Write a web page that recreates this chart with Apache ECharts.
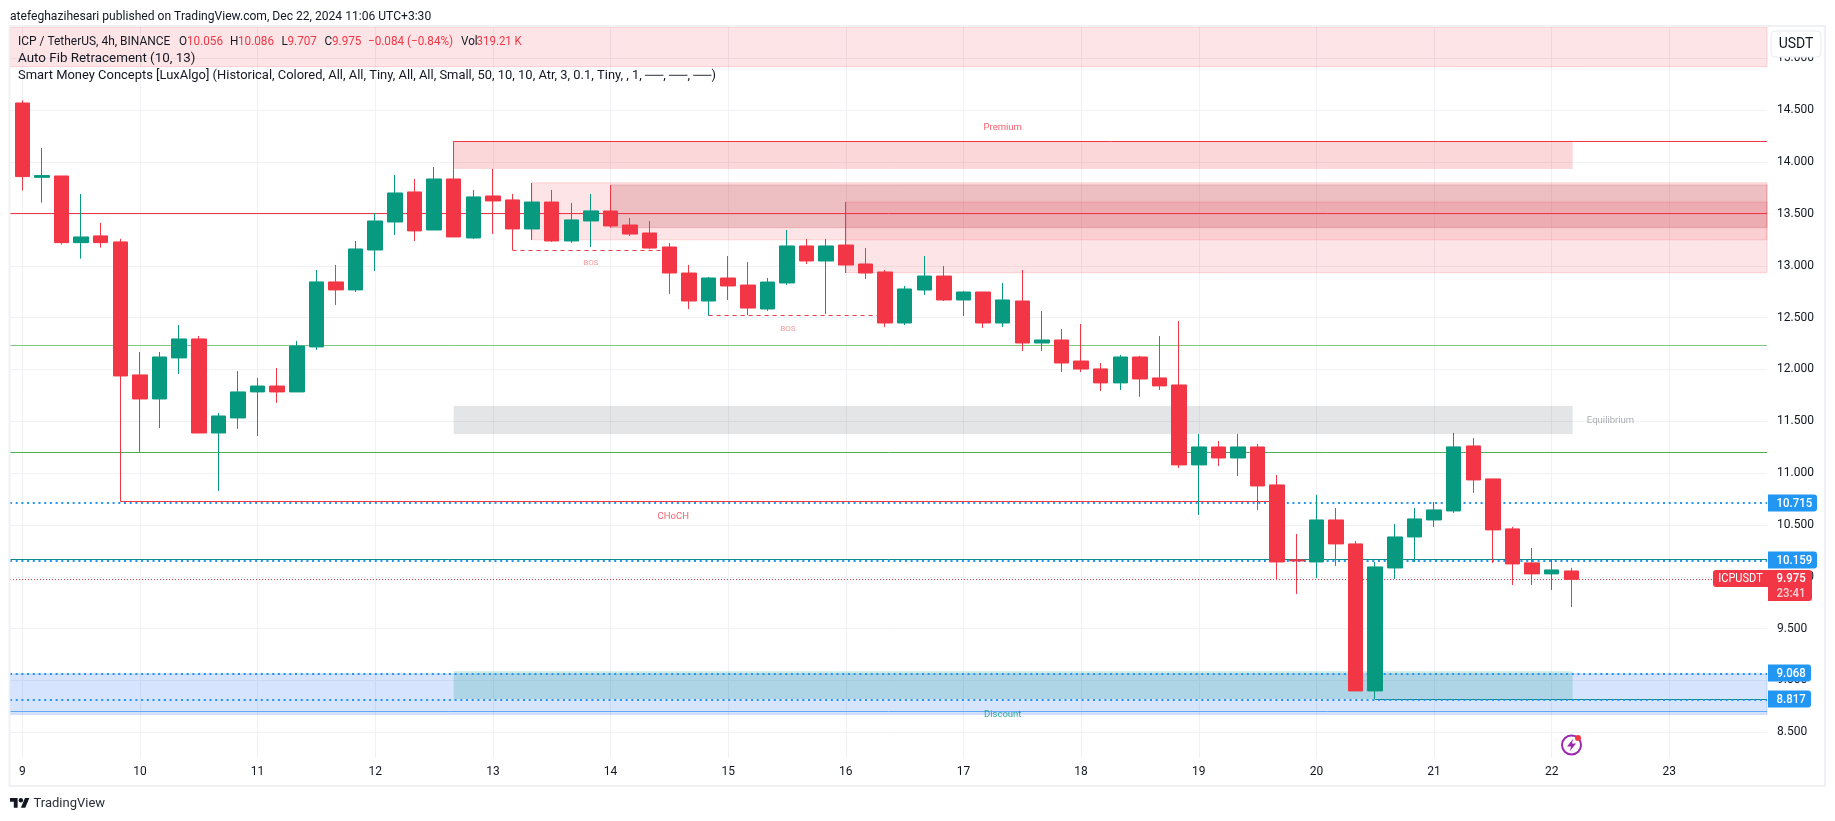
<!DOCTYPE html>
<html><head><meta charset="utf-8">
<style>html,body{margin:0;padding:0;background:#fff}#c{width:1835px;height:821px}</style>
<script src="https://cdn.jsdelivr.net/npm/echarts@6/dist/echarts.min.js"></script>
</head><body><div id="c"></div>
<script>
// 4h candles, index 0 = Dec 9 00:00
const opens=[14.570,13.853,13.866,13.223,13.288,13.230,11.947,11.715,12.111,12.294,11.387,11.532,11.783,11.840,11.783,12.217,12.844,12.767,13.152,13.422,13.712,13.345,13.837,13.268,13.673,13.635,13.355,13.615,13.239,13.432,13.528,13.393,13.316,13.181,12.930,12.660,12.882,12.814,12.583,12.834,13.191,13.046,13.200,13.017,12.940,12.448,12.766,12.901,12.670,12.747,12.448,12.660,12.255,12.284,12.081,12.005,11.870,12.120,11.918,11.850,11.079,11.252,11.146,11.252,10.886,10.163,10.143,10.548,10.317,8.899,10.085,10.384,10.548,10.635,11.262,10.944,10.462,10.134,10.028,10.056];
const closes=[13.860,13.870,13.223,13.278,13.223,11.937,11.715,12.120,12.294,11.387,11.551,11.783,11.840,11.783,12.226,12.844,12.767,13.162,13.432,13.702,13.336,13.837,13.278,13.664,13.625,13.355,13.615,13.239,13.442,13.529,13.384,13.306,13.171,12.930,12.660,12.882,12.805,12.592,12.843,13.191,13.046,13.191,13.007,12.930,12.448,12.776,12.901,12.670,12.747,12.448,12.670,12.255,12.284,12.062,12.004,11.870,12.120,11.908,11.841,11.079,11.252,11.146,11.252,10.876,10.143,10.153,10.548,10.317,8.899,10.095,10.384,10.558,10.645,11.253,10.934,10.452,10.124,10.028,10.066,9.975];
const lows=[13.725,13.609,13.204,13.069,13.175,10.728,11.204,11.435,11.956,11.387,10.828,11.426,11.358,11.677,11.783,12.188,12.622,12.747,12.950,13.297,13.239,13.345,13.278,13.259,13.307,13.152,13.249,13.230,13.220,13.181,13.367,13.287,13.162,12.728,12.583,12.519,12.670,12.525,12.564,12.814,13.017,12.535,12.930,12.872,12.409,12.428,12.718,12.660,12.515,12.400,12.409,12.178,12.178,11.975,11.975,11.792,11.802,11.735,11.802,11.050,10.596,11.069,10.972,10.644,9.979,9.835,9.989,10.105,8.899,8.818,9.979,10.143,10.481,10.616,10.809,10.134,9.921,9.921,9.873,9.707];
const highs=[14.596,14.136,13.866,13.693,13.413,13.259,12.168,12.168,12.429,12.323,11.580,11.985,11.918,12.014,12.275,12.959,13.008,13.239,13.509,13.876,13.837,13.953,14.201,13.731,13.934,13.693,13.799,13.731,13.606,13.693,13.779,13.461,13.432,13.220,13.007,12.892,13.094,13.036,12.882,13.345,13.258,13.258,13.615,13.171,12.959,12.805,13.094,12.998,12.756,12.747,12.834,12.959,12.564,12.390,12.438,12.062,12.140,12.130,12.323,12.468,11.378,11.310,11.378,11.281,10.982,10.413,10.790,10.664,10.346,10.143,10.510,10.664,10.722,11.388,11.339,10.944,10.481,10.278,10.163,10.086];
const priceTicks=[8.5,9,9.5,10,10.5,11,11.5,12,12.5,13,13.5,14,14.5,15];
const dayTicks=[0,6,12,18,24,30,36,42,48,54,60,66,72,78,84];
const dayLabels=['9','10','11','12','13','14','15','16','17','18','19','20','21','22','23'];
const xMin=-0.627,xMax=88.98,yMin=8.252,yMax=15.303;
// zones: [startIndex,endIndex,topPrice,bottomPrice,kind]
const zoneRows=[
 [xMin,xMax,15.303,14.92,'fib'],
 [26,xMax,13.80,13.25,'fib'],
 [42,xMax,13.615,12.933,'fib'],
 [30,xMax,13.78,13.368,'dark'],
 [22,79.07,14.20,13.934,'prem'],
 [22,79.07,11.648,11.378,'eq'],
 [xMin,xMax,9.063,8.674,'blue'],
 [22,79.07,9.088,8.82,'disc']
];
// lines: [startIndex,endIndex,price,kind]
const lineRows=[
 [xMin,xMax,8.70,'blueThin'],
 [xMin,xMax,13.506,'red'],
 [22,xMax,14.20,'red'],
 [xMin,xMax,12.233,'greenLight'],
 [xMin,xMax,11.201,'green'],
 [5,64,10.728,'red'],
 [xMin,xMax,10.168,'teal'],
 [69,xMax,8.818,'teal'],
 [25,33,13.15,'bos'],
 [35,44,12.522,'bos'],
 [xMin,xMax,10.715,'dots'],
 [xMin,xMax,10.159,'dots'],
 [xMin,xMax,9.068,'dots'],
 [xMin,xMax,8.817,'dots'],
 [xMin,xMax,9.975,'last']
];
const noteRows=[
 [50,14.335,'Premium','#f23645',9.5],
 [81,11.51,'Equilibrium','#9598a1',9.5],
 [50,8.675,'Discount','#089981',9.5],
 [33.2,10.585,'CHoCH','#f23645',9.5],
 [29,13.03,'BOS','#f77c80',8],
 [39.04,12.39,'BOS','#f77c80',8]
];
const priceTags=[[10.715,'10.715'],[10.159,'10.159'],[9.068,'9.068'],[8.817,'8.817']];
const lastPrice=9.975;

const UI='Roboto, sans-serif';
const zoneStyle={
 fib:{color:'rgba(242,54,69,0.13)',borderColor:'rgba(242,54,69,0.18)',borderWidth:1},
 prem:{color:'rgba(242,54,69,0.2)'},
 dark:{color:'rgba(178,40,51,0.2)',borderColor:'rgba(178,40,51,0.22)',borderWidth:1},
 eq:{color:'rgba(120,123,134,0.2)'},
 blue:{color:'rgba(41,110,250,0.19)',borderColor:'rgba(41,110,250,0.22)',borderWidth:1},
 disc:{color:'rgba(8,153,129,0.2)'}
};
const lineStyle={
 red:{color:'#f23645',width:1,type:'solid'},
 greenLight:{color:'#81c784',width:1,type:'solid'},
 green:{color:'#4caf50',width:1,type:'solid'},
 teal:{color:'#0b8a8f',width:1,type:'solid'},
 blueThin:{color:'#64a8f5',width:1,type:'solid'},
 bos:{color:'#f23645',width:1,type:[4,4]},
 dots:{color:'#2196f3',width:2,type:[2,3.7]},
 last:{color:'#f23645',width:1,type:[1,2]}
};
const candles=opens.map((o,i)=>[i,o,closes[i],lows[i],highs[i]]);
const chart=echarts.init(document.getElementById('c'),null,{renderer:'canvas'});
chart.setOption({
 animation:false,
 backgroundColor:'#fff',
 grid:{left:10,right:68,top:27,bottom:63,containLabel:false},
 xAxis:{type:'value',min:xMin,max:xMax,
  axisLine:{show:false},
  axisTick:{show:false,customValues:dayTicks},
  axisLabel:{customValues:dayTicks,margin:8,color:'#131722',fontFamily:UI,fontSize:12,
   formatter:v=>dayLabels[dayTicks.indexOf(v)]},
  splitLine:{show:true,lineStyle:{color:'#eff1f4',width:1}}},
 yAxis:{type:'value',position:'right',min:yMin,max:yMax,
  axisLine:{show:false},
  axisTick:{show:false,customValues:priceTicks},
  axisLabel:{customValues:priceTicks,margin:10,color:'#131722',fontFamily:UI,fontSize:12,
   formatter:v=>v.toFixed(3)},
  splitLine:{show:true,lineStyle:{color:'#f0f1f4',width:1}}},
 series:[
  {type:'line',data:[],z:2,silent:true,
   markArea:{silent:true,animation:false,data:zoneRows.map(r=>[
     {xAxis:r[0],yAxis:r[2],itemStyle:zoneStyle[r[4]]},{xAxis:r[1],yAxis:r[3]}])}},
  {type:'line',data:[],z:3,silent:true,
   markLine:{silent:true,animation:false,symbol:'none',label:{show:false},data:lineRows.map(r=>[
     {coord:[r[0],r[2]],lineStyle:lineStyle[r[3]]},{coord:[r[1],r[2]]}])}},
  {type:'candlestick',z:5,barWidth:15,data:candles,encode:{x:0,y:[1,2,3,4]},
   itemStyle:{color:'#089981',color0:'#f23645',borderColor:'#089981',borderColor0:'#f23645',borderWidth:1}},
  {type:'scatter',z:6,symbolSize:0,silent:true,data:noteRows.map(r=>({value:[r[0],r[1]],
    label:{show:true,position:'inside',formatter:r[2],color:r[3],fontSize:r[4],fontFamily:UI}}))}
 ]
});

const py=v=>chart.convertToPixel({yAxisIndex:0},v);
const txt=(x,y,text,o={},sx=1)=>({type:'text',z:50,silent:true,x,y,scaleX:sx,style:Object.assign({text,fill:'#131722',font:'13px '+UI,textBaseline:'middle',textVerticalAlign:'middle'},o)});
const rr=(x,y,w,h,fill,r=[0,3,3,0],z=45)=>({type:'rect',z,silent:true,shape:{x,y,width:w,height:h,r},style:{fill}});
const g=[];
// frame
g.push({type:'rect',z:40,silent:true,shape:{x:9.5,y:26,width:1815.5,height:760},style:{fill:'none',stroke:'#eff1f6',lineWidth:2}});
g.push(txt(10,17,'atefeghazihesari published on TradingView.com, Dec 22, 2024 11:06 UTC+3:30',{font:'13px '+UI},0.93));
// legend
const RED='#f23645';
[[18,'ICP / TetherUS, 4h, BINANCE','#131722',0.92],[179,'O','#131722',0.9],[187,'10.056',RED,0.9],[230,'H','#131722',0.9],[238,'10.086',RED,0.9],[281.5,'L','#131722',0.9],[287.5,'9.707',RED,0.9],[324.5,'C','#131722',0.9],[332,'9.975',RED,0.9],[368,'−0.084 (−0.84%)',RED,0.9],[461,'Vol','#131722',0.9],[476.6,'319.21 K',RED,0.88]]
 .forEach(s=>g.push(txt(s[0],42,s[1],{fill:s[2],font:'13px '+UI},s[3])));
g.push(txt(18,59,'Auto Fib Retracement (10, 13)',{font:'13px '+UI},1.03));
g.push(txt(18,76,'Smart Money Concepts [LuxAlgo] (Historical, Colored, All, All, Tiny, All, All, Small, 50, 10, 10, Atr, 3, 0.1, Tiny, , 1, ──, ──, ──)',{font:'13px '+UI},0.995));
// USDT button
g.push({type:'rect',z:46,silent:true,shape:{x:1771,y:31,width:50,height:26,r:4},style:{fill:'#fff',stroke:'#e8eaf0',lineWidth:1}});
g.push(txt(1796,44,'USDT',{textAlign:'center',font:'14px '+UI}));
// price tags
priceTags.forEach(t=>{const y=py(t[0]);const wide=t[1].length>5;
 g.push(rr(1768,Math.round(y)-8.5,wide?49:43,17,'#2196f3'));
 g.push(txt(1776.5,Math.round(y)+0.5,t[1],{fill:'#fff',font:'500 13px '+UI},0.88));});
const ly=Math.round(py(lastPrice));
g.push(rr(1768,ly-9,44,31,RED));
g.push(txt(1776.5,ly,lastPrice.toFixed(3),{fill:'#fff',font:'500 13px '+UI},0.88));
g.push(txt(1776.5,ly+14.5,'23:41',{fill:'#fbd0d4',font:'500 13px '+UI},0.88));
g.push(rr(1713,ly-9,55,17,RED,[3,0,0,3]));
g.push(txt(1740.5,ly,'ICPUSDT',{fill:'#fff',textAlign:'center',font:'13px '+UI},0.85));
// bolt badge
g.push({type:'circle',z:46,silent:true,shape:{cx:1571.5,cy:745,r:9.5},style:{fill:'#fff',stroke:'#9c27b0',lineWidth:2}});
g.push({type:'polygon',z:47,silent:true,shape:{points:[[1573,739],[1567,746.5],[1571,746.5],[1570,751],[1576,743.5],[1572,743.5]]},style:{fill:'#9c27b0'}});
g.push({type:'circle',z:48,silent:true,shape:{cx:1578,cy:738,r:3},style:{fill:'#f23645'}});
// TradingView logo
[[[0,4],[14,4],[14,22],[7,22],[7,11],[0,11]],[[20,22],[27.5,4],[35.5,4],[28,22]]].forEach(points=>
 g.push({type:'polygon',z:46,silent:true,x:10,y:795.8,scaleX:0.545,scaleY:0.545,shape:{points},style:{fill:'#131722'}}));
g.push({type:'circle',z:46,silent:true,shape:{cx:20.9,cy:800.2,r:2.2},style:{fill:'#131722'}});
g.push(txt(33.5,803.5,'TradingView',{font:'13px '+UI,fill:'#2a2e39'}));
chart.setOption({graphic:{elements:g}});
</script></body></html>
